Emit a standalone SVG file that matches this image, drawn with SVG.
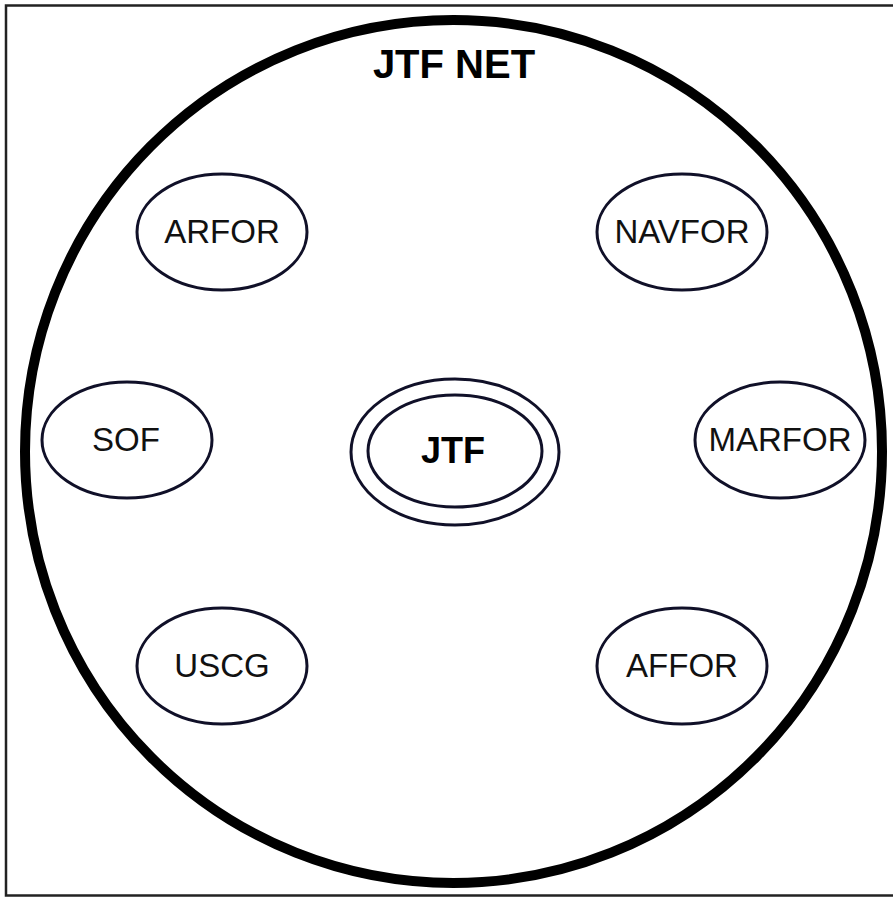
<svg xmlns="http://www.w3.org/2000/svg" width="893" height="897" viewBox="0 0 893 897">
<style>
.node { fill: none; stroke: #101028; stroke-width: 3; }
.lbl { font-family: "Liberation Sans", Arial, sans-serif; font-size: 33px; fill: #111; text-anchor: middle; }
.bold { font-weight: bold; fill: #000; }
</style>
<rect x="6" y="5.5" width="900" height="890" fill="#fff" stroke="#222" stroke-width="2.5"/>
<g id="jtf-net">
<ellipse cx="453.5" cy="451.5" rx="428.5" ry="431.5" fill="none" stroke="#000" stroke-width="10"/>
<text class="lbl bold" x="454" y="78" style="font-size:40px">JTF NET</text>
</g>
<g id="connectors"></g>
<g id="arfor">
<ellipse class="node" cx="222" cy="232" rx="85" ry="58"/>
<text class="lbl" x="222" y="243">ARFOR</text>
</g>
<g id="navfor">
<ellipse class="node" cx="682" cy="232" rx="85" ry="58"/>
<text class="lbl" x="682" y="243">NAVFOR</text>
</g>
<g id="sof">
<ellipse class="node" cx="127" cy="440" rx="85" ry="58"/>
<text class="lbl" x="126" y="451">SOF</text>
</g>
<g id="marfor">
<ellipse class="node" cx="780" cy="440" rx="85" ry="58"/>
<text class="lbl" x="780" y="451">MARFOR</text>
</g>
<g id="uscg">
<ellipse class="node" cx="222" cy="666" rx="85" ry="58"/>
<text class="lbl" x="222" y="677">USCG</text>
</g>
<g id="affor">
<ellipse class="node" cx="682" cy="666" rx="85" ry="58"/>
<text class="lbl" x="682" y="677">AFFOR</text>
</g>
<g id="jtf">
<ellipse class="node" cx="455" cy="452" rx="104" ry="73"/>
<ellipse class="node" cx="455" cy="451" rx="87" ry="56"/>
<text class="lbl bold" x="453" y="463" style="font-size:36px">JTF</text>
</g>
</svg>
